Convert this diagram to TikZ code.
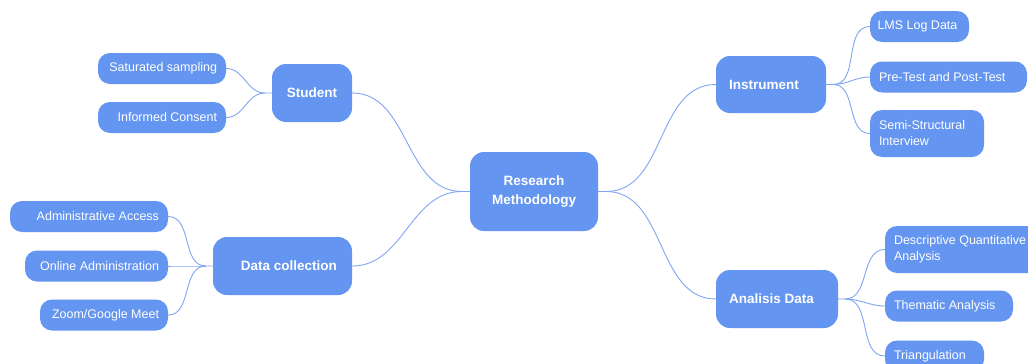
\documentclass[tikz,border=0pt]{standalone}
\usepackage{fontspec}
\setmainfont{Liberation Sans}
\definecolor{mapblue}{RGB}{100,149,240}
\definecolor{linkblue}{RGB}{128,166,243}

\begin{document}
\begin{tikzpicture}[x=1pt,y=-1pt]
      \tikzset{
        box/.style={fill=mapblue,text=white,inner ysep=0pt},
        hub/.style={box,rounded corners=14pt,inner xsep=13pt,
          font=\bfseries\fontsize{13.5}{19}\selectfont},
        leaf/.style={box,rounded corners=12pt,inner xsep=9pt,minimum height=31pt,
          font=\fontsize{12.5}{16}\selectfont},
        leafL/.style={leaf,align=flush right,text width=#1},
        leafR/.style={leaf,align=flush left,text width=#1},
        branch/.style={draw=linkblue,line width=0.9pt}
      }
      \clip (0,0) rectangle (1028,364);
      \fill[white] (0,0) rectangle (1028,364);

      % main topic and branches
      \node[hub,align=center,text width=102pt,minimum height=79pt] (rm) at (534,191.5) {Research\\Methodology};
      \node[hub,align=center,text width=54pt,minimum height=58pt] (st) at (312,93) {Student};
      \node[hub,align=flush right,inner xsep=15pt,text width=109pt,minimum height=58pt] (dc) at (282.5,266) {Data collection};
      \node[hub,align=flush left,text width=84pt,minimum height=57pt] (in) at (771,84.5) {Instrument};
      \node[hub,align=flush left,text width=96pt,minimum height=58pt] (ad) at (777,299) {Analisis Data};

      % left leaves
      \node[leafL=110pt] (ss) at (162,68.5) {Saturated sampling};
      \node[leafL=110pt] (ic) at (162,117.5) {Informed Consent};
      \node[leafL=140pt] (aa) at (89,216.5) {Administrative Access};
      \node[leafL=125pt] (oa) at (96.5,266) {Online Administration};
      \node[leafL=110pt] (zg) at (104,315) {Zoom/Google Meet};

      % right leaves
      \node[leafR=84pt,inner xsep=7.5pt] (lms) at (919.5,26.5) {LMS Log Data};
      \node[leafR=139pt] (pt) at (948.5,77) {Pre-Test and Post-Test};
      \node[leafR=96pt,minimum height=47pt] (ssi) at (927,133.5) {Semi-Structural\\Interview};
      \node[leafR=140pt,minimum height=47pt] (dqa) at (964,249.5) {Descriptive Quantitative\\Analysis};
      \node[leafR=110pt] (ta) at (949,306) {Thematic Analysis};
      \node[leafR=81pt] (tri) at (934.5,356) {Triangulation};

      % joints
      \coordinate (rm-l) at ([xshift=-8pt]rm.west);
      \coordinate (rm-r) at ([xshift=8pt]rm.east);
      \coordinate (st-j) at ([xshift=-7pt]st.west);
      \coordinate (dc-j) at ([xshift=-7pt]dc.west);
      \coordinate (in-j) at ([xshift=7pt]in.east);
      \coordinate (ad-j) at ([xshift=7pt]ad.east);

      \draw[branch] (st.east) to[out=0,in=180] (rm-l) -- (rm.west);
      \draw[branch] (dc.east) to[out=0,in=180] (rm-l);
      \draw[branch] (in.west) to[out=180,in=0] (rm-r) -- (rm.east);
      \draw[branch] (ad.west) to[out=180,in=0] (rm-r);

      \draw[branch] (ss.east) to[out=0,in=180] (st-j) -- (st.west);
      \draw[branch] (ic.east) to[out=0,in=180] (st-j);
      \draw[branch] (aa.east) to[out=0,in=180] (dc-j) -- (dc.west);
      \draw[branch] (oa.east) to[out=0,in=180] (dc-j);
      \draw[branch] (zg.east) to[out=0,in=180] (dc-j);

      \draw[branch] (lms.west) to[out=180,in=0] (in-j) -- (in.east);
      \draw[branch] (pt.west) to[out=180,in=0] (in-j);
      \draw[branch] (ssi.west) to[out=180,in=0] (in-j);
      \draw[branch] (dqa.west) to[out=180,in=0] (ad-j) -- (ad.east);
      \draw[branch] (ta.west) to[out=180,in=0] (ad-j);
      \draw[branch] (tri.west) to[out=180,in=0] (ad-j);
    \end{tikzpicture}
\end{document}
